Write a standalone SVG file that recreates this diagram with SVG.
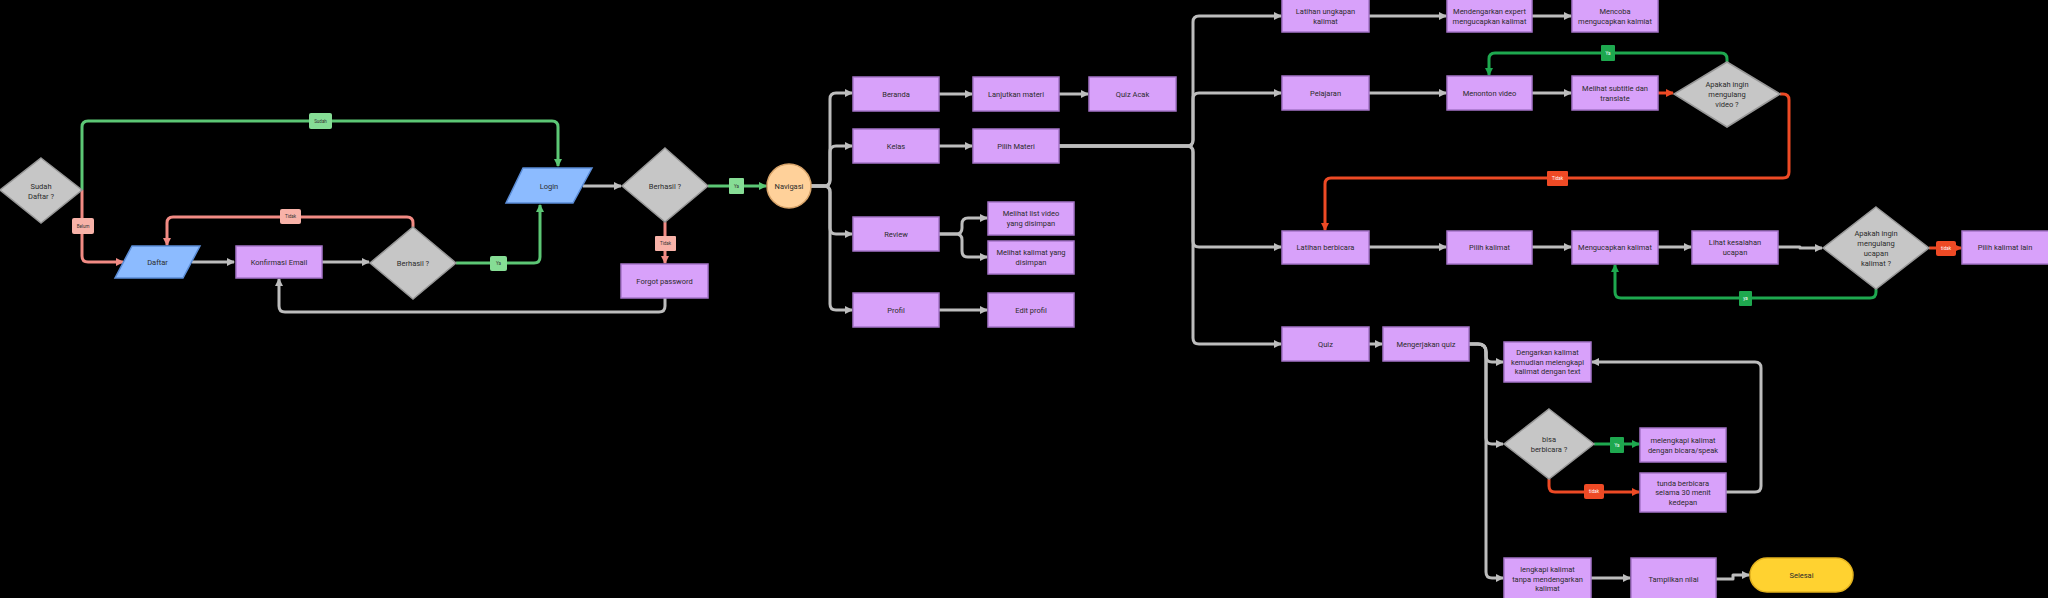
<svg xmlns="http://www.w3.org/2000/svg" width="2048" height="598" viewBox="0 0 2048 598">
<style>
.box{fill:#D8A1FA;stroke:#A574C9;stroke-width:1.5}
.dia{fill:#C6C6C6;stroke:#989898;stroke-width:1.5}
.io{fill:#8CBBFF;stroke:#5A8CD6;stroke-width:1.5}
.t{font-family:Roboto,"Liberation Sans",sans-serif;font-size:7.5px;fill:#2B2B2B;text-anchor:middle;dominant-baseline:central}
.lt{font-family:Roboto,"Liberation Sans",sans-serif;font-size:4.5px;fill:#333;text-anchor:middle;dominant-baseline:central}
.lw{font-family:Roboto,"Liberation Sans",sans-serif;font-size:4.5px;fill:#fff;text-anchor:middle;dominant-baseline:central}
.c{fill:none;stroke:#BDBDBD;stroke-width:3;stroke-linejoin:round}
.g{stroke:#5CC775}
.r{stroke:#F28B84}
.G{stroke:#1EA84F}
.R{stroke:#EE4A25}
</style>
<defs>
<marker id="ag" markerUnits="userSpaceOnUse" markerWidth="8" markerHeight="8" refX="7" refY="4" orient="auto"><path d="M0,0 L8,4 L0,8 z" fill="#BDBDBD"/></marker>
<marker id="agr" markerUnits="userSpaceOnUse" markerWidth="8" markerHeight="8" refX="7" refY="4" orient="auto"><path d="M0,0 L8,4 L0,8 z" fill="#5CC775"/></marker>
<marker id="ar" markerUnits="userSpaceOnUse" markerWidth="8" markerHeight="8" refX="7" refY="4" orient="auto"><path d="M0,0 L8,4 L0,8 z" fill="#F28B84"/></marker>
<marker id="aG" markerUnits="userSpaceOnUse" markerWidth="8" markerHeight="8" refX="7" refY="4" orient="auto"><path d="M0,0 L8,4 L0,8 z" fill="#1EA84F"/></marker>
<marker id="aR" markerUnits="userSpaceOnUse" markerWidth="8" markerHeight="8" refX="7" refY="4" orient="auto"><path d="M0,0 L8,4 L0,8 z" fill="#EE4A25"/></marker>
</defs>
<rect x="0" y="0" width="2048" height="598" fill="#000"/>

<g id="connectors">
<path class="c g" d="M82,190 V127 Q82,121 88,121 H552 Q558,121 558,127 V166" marker-end="url(#agr)"/>
<path class="c r" d="M82,190 V256 Q82,262 88,262 H123" marker-end="url(#ar)"/>
<path class="c" d="M192,262 H234" marker-end="url(#ag)"/>
<path class="c" d="M322,262 H369" marker-end="url(#ag)"/>
<path class="c r" d="M413,227 V223 Q413,217 407,217 H173 Q167,217 167,223 V245" marker-end="url(#ar)"/>
<path class="c g" d="M456,263 H534 Q540,263 540,257 V205" marker-end="url(#agr)"/>
<path class="c" d="M583,186 H621" marker-end="url(#ag)"/>
<path class="c g" d="M708,186 H766" marker-end="url(#agr)"/>
<path class="c r" d="M665,222 V263" marker-end="url(#ar)"/>
<path class="c" d="M665,298 V306 Q665,312 659,312 H285 Q279,312 279,306 V279" marker-end="url(#ag)"/>

<path class="c" d="M811,186 H824 Q830,186 830,180 V99 Q830,93 836,93 H852" marker-end="url(#ag)"/>
<path class="c" d="M811,186 H824 Q830,186 830,180 V152 Q830,146 836,146 H852" marker-end="url(#ag)"/>
<path class="c" d="M811,186 H824 Q830,186 830,192 V228 Q830,234 836,234 H852" marker-end="url(#ag)"/>
<path class="c" d="M811,186 H824 Q830,186 830,192 V304 Q830,310 836,310 H852" marker-end="url(#ag)"/>
<path class="c" d="M939,94 H972" marker-end="url(#ag)"/>
<path class="c" d="M1059,94 H1088" marker-end="url(#ag)"/>
<path class="c" d="M939,146 H972" marker-end="url(#ag)"/>
<path class="c" d="M939,234 H956 Q962,234 962,228 V224 Q962,218 968,218 H987" marker-end="url(#ag)"/>
<path class="c" d="M939,234 H956 Q962,234 962,240 V251 Q962,257 968,257 H987" marker-end="url(#ag)"/>
<path class="c" d="M939,310 H987" marker-end="url(#ag)"/>

<path class="c" d="M1059,146 H1187 Q1193,146 1193,140 V22 Q1193,16 1199,16 H1281" marker-end="url(#ag)"/>
<path class="c" d="M1059,146 H1187 Q1193,146 1193,140 V99 Q1193,93 1199,93 H1281" marker-end="url(#ag)"/>
<path class="c" d="M1059,146 H1187 Q1193,146 1193,152 V241 Q1193,247 1199,247 H1281" marker-end="url(#ag)"/>
<path class="c" d="M1059,146 H1187 Q1193,146 1193,152 V338 Q1193,344 1199,344 H1281" marker-end="url(#ag)"/>

<path class="c" d="M1369,16 H1446" marker-end="url(#ag)"/>
<path class="c" d="M1532,16 H1571" marker-end="url(#ag)"/>
<path class="c" d="M1369,93 H1446" marker-end="url(#ag)"/>
<path class="c" d="M1532,93 H1571" marker-end="url(#ag)"/>
<path class="c R" d="M1658,93 H1673" marker-end="url(#aR)"/>
<path class="c G" d="M1727,62 V59 Q1727,53 1721,53 H1495 Q1489,53 1489,59 V75" marker-end="url(#aG)"/>
<path class="c R" d="M1780,94 H1783 Q1789,94 1789,100 V172 Q1789,178 1783,178 H1331 Q1325,178 1325,184 V230" marker-end="url(#aR)"/>

<path class="c" d="M1369,247 H1446" marker-end="url(#ag)"/>
<path class="c" d="M1532,247 H1571" marker-end="url(#ag)"/>
<path class="c" d="M1658,247 H1691" marker-end="url(#ag)"/>
<path class="c" d="M1778,247 H1800 V248 H1822" marker-end="url(#ag)"/>
<path class="c G" d="M1876,289 V292 Q1876,298 1870,298 H1621 Q1615,298 1615,292 V265" marker-end="url(#aG)"/>
<path class="c R" d="M1929,248 H1961" marker-end="url(#aR)"/>

<path class="c" d="M1369,344 H1382" marker-end="url(#ag)"/>
<path class="c" d="M1469,344 H1478 Q1486,344 1486,352 V356 Q1486,362 1492,362 H1503" marker-end="url(#ag)"/>
<path class="c" d="M1469,344 H1478 Q1486,344 1486,352 V438 Q1486,444 1492,444 H1503" marker-end="url(#ag)"/>
<path class="c" d="M1469,344 H1478 Q1486,344 1486,352 V572 Q1486,578 1492,578 H1503" marker-end="url(#ag)"/>
<path class="c G" d="M1594,444 H1639" marker-end="url(#aG)"/>
<path class="c R" d="M1549,479 V486 Q1549,492 1555,492 H1639" marker-end="url(#aR)"/>
<path class="c" d="M1726,492 H1755 Q1761,492 1761,486 V368 Q1761,362 1755,362 H1592" marker-end="url(#ag)"/>
<path class="c" d="M1591,578 H1630" marker-end="url(#ag)"/>
<path class="c" d="M1716,579 H1733 V575 H1749" marker-end="url(#ag)"/>

<g id="labels">
<rect x="309" y="113" width="23" height="16" rx="2" fill="#86DD95"/><text class="lt" x="320.5" y="121">Sudah</text>
<rect x="72" y="218" width="22" height="16" rx="2" fill="#F8B2A8"/><text class="lt" x="83" y="226">Belum</text>
<rect x="280" y="209" width="21" height="15" rx="2" fill="#F8B2A8"/><text class="lt" x="290.5" y="216.5">Tidak</text>
<rect x="490" y="256" width="17" height="15" rx="2" fill="#86DD95"/><text class="lt" x="498.5" y="263.5">Ya</text>
<rect x="729" y="178" width="15" height="16" rx="1" fill="#86DD95"/><text class="lt" x="736.5" y="186">Ya</text>
<rect x="655" y="236" width="21" height="15" rx="1" fill="#F8B2A8"/><text class="lt" x="665.5" y="243.5">Tidak</text>
<rect x="1601" y="45" width="14" height="16" rx="1" fill="#1EA84F"/><text class="lw" x="1608" y="53">Ya</text>
<rect x="1547" y="171" width="21" height="15" rx="1" fill="#EE4A25"/><text class="lw" x="1557.5" y="178.5">Tidak</text>
<rect x="1739" y="291" width="13" height="15" rx="1" fill="#1EA84F"/><text class="lw" x="1745.5" y="298.5">ya</text>
<rect x="1936" y="241" width="20" height="15" rx="2" fill="#EE4A25"/><text class="lw" x="1946" y="248.5">tidak</text>
<rect x="1610" y="437" width="14" height="16" rx="1" fill="#1EA84F"/><text class="lw" x="1617" y="445">Ya</text>
<rect x="1584" y="484" width="20" height="15" rx="2" fill="#EE4A25"/><text class="lw" x="1594" y="491.5">tidak</text>
</g>
</g>

<g id="sudah-daftar"><polygon class="dia" points="41,158 82,190 41,223 0,190"/><text class="t" x="41" y="186">Sudah</text><text class="t" x="41" y="196">Daftar ?</text></g>
<g id="daftar"><polygon class="io" points="132,246 200,246 183,278 115,278"/><text class="t" x="157.5" y="262">Daftar</text></g>
<g id="konfirmasi-email"><rect class="box" x="236" y="246" width="86" height="32"/><text class="t" x="279" y="262">Konfirmasi Email</text></g>
<g id="berhasil-1"><polygon class="dia" points="413,227 456,263 413,299 370,263"/><text class="t" x="413" y="263">Berhasil ?</text></g>
<g id="login"><polygon class="io" points="523,168 592,168 573,203 506,203"/><text class="t" x="549" y="186">Login</text></g>
<g id="berhasil-2"><polygon class="dia" points="665,148 708,186 665,222 622,186"/><text class="t" x="665" y="186">Berhasil ?</text></g>
<g id="forgot-password"><rect class="box" x="621" y="264" width="87" height="34"/><text class="t" x="664.5" y="281">Forgot password</text></g>
<g id="navigasi"><circle cx="789" cy="186" r="22" fill="#FFD19A" stroke="#D8A46A" stroke-width="1.5"/><text class="t" x="789" y="186">Navigasi</text></g>

<g id="beranda"><rect class="box" x="853" y="77" width="86" height="34"/><text class="t" x="896" y="94">Beranda</text></g>
<g id="kelas"><rect class="box" x="853" y="129" width="86" height="34"/><text class="t" x="896" y="146">Kelas</text></g>
<g id="review"><rect class="box" x="853" y="217" width="86" height="34"/><text class="t" x="896" y="234">Review</text></g>
<g id="profil"><rect class="box" x="853" y="293" width="86" height="34"/><text class="t" x="896" y="310">Profil</text></g>
<g id="lanjutkan-materi"><rect class="box" x="973" y="77" width="86" height="34"/><text class="t" x="1016" y="94">Lanjutkan materi</text></g>
<g id="quiz-acak"><rect class="box" x="1089" y="77" width="87" height="34"/><text class="t" x="1132.5" y="94">Quiz Acak</text></g>
<g id="pilih-materi"><rect class="box" x="973" y="129" width="86" height="34"/><text class="t" x="1016" y="146">Pilih Materi</text></g>
<g id="melihat-list-video"><rect class="box" x="988" y="202" width="86" height="33"/><text class="t" x="1031" y="213.5">Melihat  list video</text><text class="t" x="1031" y="223.5">yang disimpan</text></g>
<g id="melihat-kalimat"><rect class="box" x="988" y="241" width="86" height="33"/><text class="t" x="1031" y="252.5">Melihat kalimat yang</text><text class="t" x="1031" y="262.5">disimpan</text></g>
<g id="edit-profil"><rect class="box" x="988" y="293" width="86" height="34"/><text class="t" x="1031" y="310">Edit profil</text></g>

<g id="latihan-ungkapan"><rect class="box" x="1282" y="-1" width="87" height="33"/><text class="t" x="1325.5" y="11">Latihan ungkapan</text><text class="t" x="1325.5" y="21">kalimat</text></g>
<g id="mendengarkan-expert"><rect class="box" x="1447" y="-1" width="85" height="33"/><text class="t" x="1489.5" y="11">Mendengarkan expert</text><text class="t" x="1489.5" y="21">mengucapkan kalimat</text></g>
<g id="mencoba"><rect class="box" x="1572" y="-1" width="86" height="33"/><text class="t" x="1615" y="11">Mencoba</text><text class="t" x="1615" y="21">mengucapkan kalmiat</text></g>
<g id="pelajaran"><rect class="box" x="1282" y="76" width="87" height="34"/><text class="t" x="1325.5" y="93">Pelajaran</text></g>
<g id="menonton-video"><rect class="box" x="1447" y="76" width="85" height="34"/><text class="t" x="1489.5" y="93">Menonton video</text></g>
<g id="melihat-subtitle"><rect class="box" x="1572" y="76" width="86" height="34"/><text class="t" x="1615" y="88">Melihat subtitle dan</text><text class="t" x="1615" y="98">translate</text></g>
<g id="apakah-video"><polygon class="dia" points="1727,62 1780,94 1727,127 1674,94"/><text class="t" x="1727" y="84">Apakah ingin</text><text class="t" x="1727" y="94">mengulang</text><text class="t" x="1727" y="104">video ?</text></g>

<g id="latihan-berbicara"><rect class="box" x="1282" y="231" width="87" height="33"/><text class="t" x="1325.5" y="247.5">Latihan berbicara</text></g>
<g id="pilih-kalimat"><rect class="box" x="1447" y="231" width="85" height="33"/><text class="t" x="1489.5" y="247.5">Pilih kalimat</text></g>
<g id="mengucapkan-kalimat"><rect class="box" x="1572" y="231" width="86" height="33"/><text class="t" x="1615" y="247.5">Mengucapkan kalimat</text></g>
<g id="lihat-kesalahan"><rect class="box" x="1692" y="231" width="86" height="33"/><text class="t" x="1735" y="242.5">Lihat kesalahan</text><text class="t" x="1735" y="252.5">ucapan</text></g>
<g id="apakah-ucapan"><polygon class="dia" points="1876,207 1929,248 1876,289 1823,248"/><text class="t" x="1876" y="233">Apakah ingin</text><text class="t" x="1876" y="243">mengulang</text><text class="t" x="1876" y="253">ucapan</text><text class="t" x="1876" y="263">kalimat ?</text></g>
<g id="pilih-kalimat-lain"><rect class="box" x="1962" y="231" width="87" height="33"/><text class="t" x="2005" y="247.5">Pilih kalimat lain</text></g>

<g id="quiz"><rect class="box" x="1282" y="327" width="87" height="34"/><text class="t" x="1325.5" y="344">Quiz</text></g>
<g id="mengerjakan-quiz"><rect class="box" x="1383" y="327" width="86" height="34"/><text class="t" x="1426" y="344">Mengerjakan quiz</text></g>
<g id="dengarkan"><rect class="box" x="1504" y="342" width="87" height="40"/><text class="t" x="1547.5" y="352">Dengarkan kalimat</text><text class="t" x="1547.5" y="362">kemudian melengkapi</text><text class="t" x="1547.5" y="371.5">kalimat dengan text</text></g>
<g id="bisa-berbicara"><polygon class="dia" points="1549,409 1594,444 1549,479 1504,444"/><text class="t" x="1549" y="439">bisa</text><text class="t" x="1549" y="449">berbicara ?</text></g>
<g id="melengkapi"><rect class="box" x="1640" y="428" width="86" height="34"/><text class="t" x="1683" y="440">melengkapi kalimat</text><text class="t" x="1683" y="450">dengan bicara/speak</text></g>
<g id="tunda"><rect class="box" x="1640" y="473" width="86" height="39"/><text class="t" x="1683" y="483">tunda berbicara</text><text class="t" x="1683" y="492.5">selama 30 menit</text><text class="t" x="1683" y="502">kedepan</text></g>
<g id="lengkapi"><rect class="box" x="1504" y="558" width="87" height="41"/><text class="t" x="1547.5" y="569">lengkapi kalimat</text><text class="t" x="1547.5" y="579">tanpa mendengarkan</text><text class="t" x="1547.5" y="588.5">kalimat</text></g>
<g id="tampilkan-nilai"><rect class="box" x="1631" y="558" width="85" height="41"/><text class="t" x="1673.5" y="579">Tampilkan nilai</text></g>
<g id="selesai"><rect x="1750" y="558" width="103" height="34" rx="17" fill="#FFD230" stroke="#E3B21E" stroke-width="1.5"/><text class="t" x="1801.5" y="575">Selesai</text></g>
</svg>
